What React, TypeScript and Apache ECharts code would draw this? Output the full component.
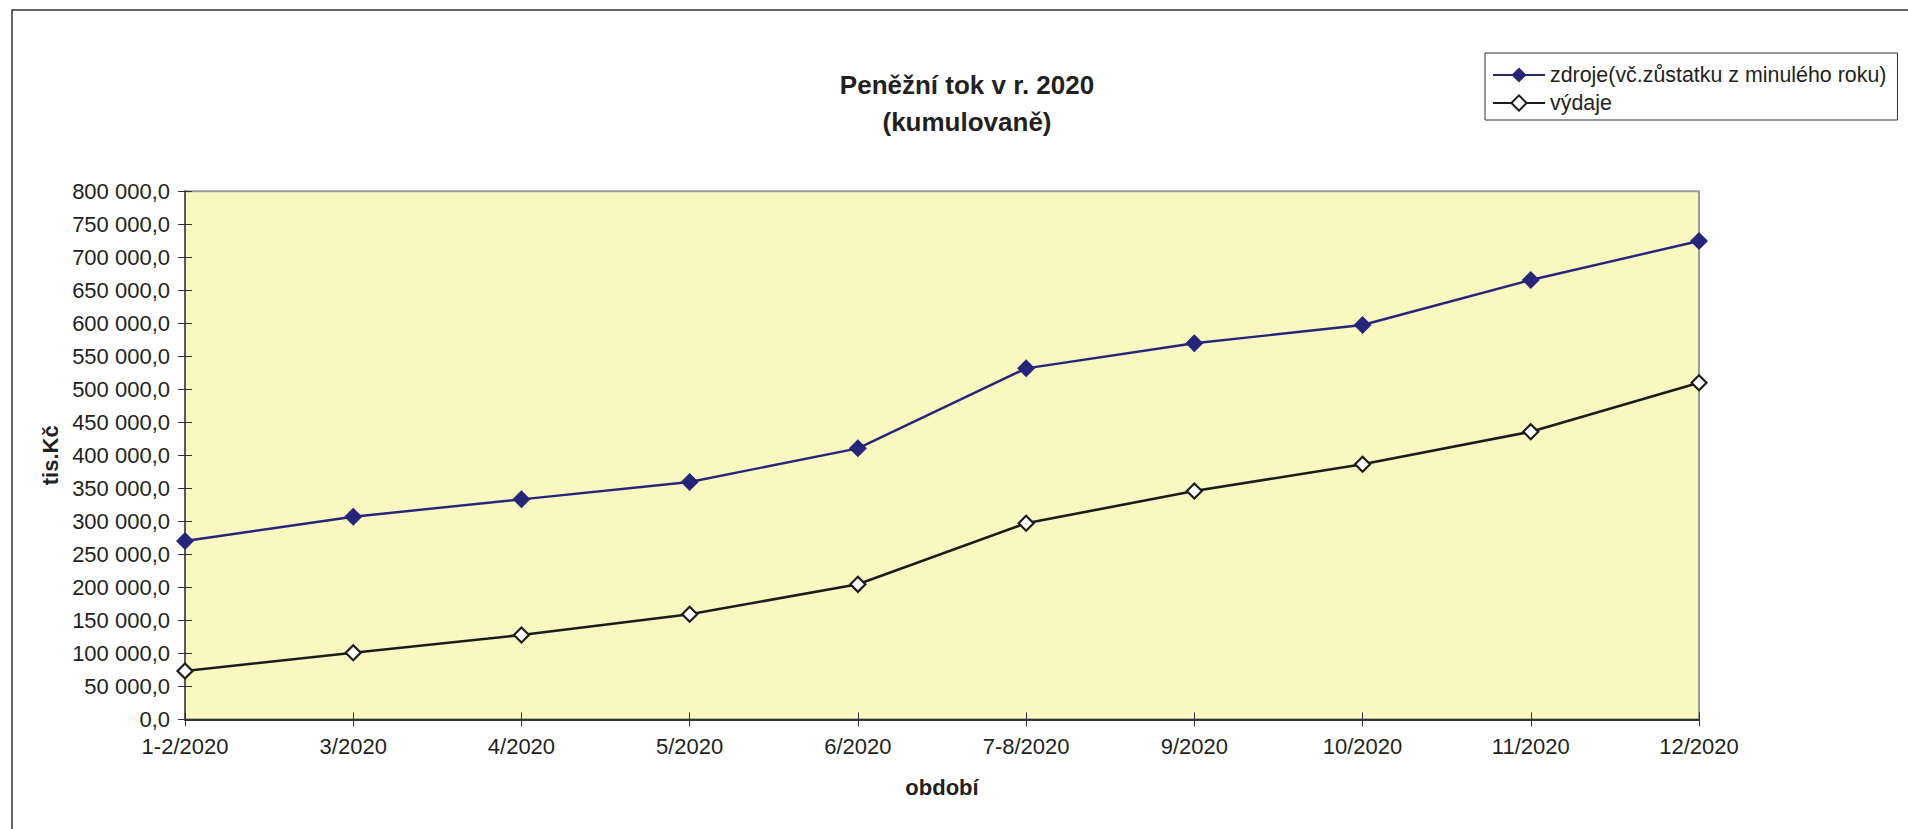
import React, { useEffect, useRef } from "react";
import * as echarts from "echarts";

const categories = [
  "1-2/2020",
  "3/2020",
  "4/2020",
  "5/2020",
  "6/2020",
  "7-8/2020",
  "9/2020",
  "10/2020",
  "11/2020",
  "12/2020",
];

const zdroje = [270150, 306970, 333300, 359500, 410600, 531800, 569700, 597400, 665600, 724700];
const vydaje = [73180, 100900, 127700, 159100, 204500, 297000, 345900, 386400, 435800, 510000];

const seriesNames = ["zdroje(vč.zůstatku z minulého roku)", "výdaje"];
const titleText = "Peněžní tok v r. 2020\n(kumulovaně)";
const xAxisName = "období";
const yAxisName = "tis.Kč";
const yMin = 0;
const yMax = 800000;
const yStep = 50000;

const FONT = "'Liberation Sans', Arial, sans-serif";
const TEXT = "#231f20";

function fmt(v: number): string {
  const s = Math.round(v).toString().replace(/\B(?=(\d{3})+(?!\d))/g, " ");
  return s + ",0";
}

export default function App() {
  const ref = useRef<HTMLDivElement>(null);
  useEffect(() => {
    if (!ref.current) return;
    const chart = echarts.init(ref.current, undefined, { renderer: "svg" });
    chart.setOption({
      animation: false,
      backgroundColor: "#ffffff",
      textStyle: { fontFamily: FONT, color: TEXT },
      graphic: [
        {
          type: "rect",
          shape: { x: 12, y: 10, width: 1950, height: 900 },
          style: { fill: "none", stroke: "#333333", lineWidth: 1.5 },
          silent: true,
        },
      ],
      title: {
        text: titleText,
        left: 967,
        top: 66,
        textAlign: "center",
        padding: 0,
        textStyle: {
          fontFamily: FONT,
          fontSize: 26,
          fontWeight: "bold",
          color: TEXT,
          lineHeight: 37,
        },
      },
      legend: {
        orient: "vertical",
        left: 1485,
        top: 53,
        padding: [11, 11, 6, 7],
        itemWidth: 52,
        itemHeight: 19,
        itemGap: 6,
        borderColor: "#333333",
        borderWidth: 1,
        textStyle: { fontFamily: FONT, fontSize: 21.4, lineHeight: 22, color: TEXT },
        data: seriesNames,
      },
      grid: {
        left: 185,
        right: 209,
        top: 191.3,
        bottom: 109.7,
        show: true,
        backgroundColor: "#faf7c0",
        borderColor: "#9a9a9a",
        borderWidth: 2,
      },
      xAxis: [
        {
          type: "category",
          data: categories,
          boundaryGap: false,
          position: "bottom",
          name: xAxisName,
          nameLocation: "middle",
          nameGap: 57,
          nameTextStyle: { fontFamily: FONT, fontSize: 22, fontWeight: "bold", color: TEXT },
          axisLine: { show: true, lineStyle: { color: "#333333", width: 2 } },
          axisTick: { show: true, length: 7, lineStyle: { color: "#333333", width: 1 } },
          axisLabel: { margin: 16, fontFamily: FONT, fontSize: 22, color: TEXT, interval: 0 },
          splitLine: { show: false },
        },
        {
          type: "category",
          data: categories,
          boundaryGap: false,
          position: "bottom",
          axisLine: { show: false },
          axisTick: { show: true, inside: true, length: 7, lineStyle: { color: "#333333", width: 1 } },
          axisLabel: { show: false },
          splitLine: { show: false },
        },
      ],
      yAxis: [
        {
          type: "value",
          min: yMin,
          max: yMax,
          interval: yStep,
          position: "left",
          name: yAxisName,
          nameLocation: "middle",
          nameGap: 122,
          nameTextStyle: { fontFamily: FONT, fontSize: 22, fontWeight: "bold", color: TEXT },
          axisLine: { show: true, lineStyle: { color: "#5a5a5a", width: 2 } },
          axisTick: { show: true, length: 7, lineStyle: { color: "#333333", width: 1 } },
          axisLabel: { margin: 15, fontFamily: FONT, fontSize: 22, color: TEXT, formatter: fmt },
          splitLine: { show: false },
        },
        {
          type: "value",
          min: yMin,
          max: yMax,
          interval: yStep,
          position: "left",
          axisLine: { show: false },
          axisTick: { show: true, inside: true, length: 7, lineStyle: { color: "#333333", width: 1 } },
          axisLabel: { show: false },
          splitLine: { show: false },
        },
      ],
      series: [
        {
          name: seriesNames[0],
          type: "line",
          data: zdroje,
          xAxisIndex: 0,
          yAxisIndex: 0,
          symbol: "diamond",
          symbolSize: 18,
          lineStyle: { color: "#25257a", width: 2.4 },
          itemStyle: { color: "#25257a", borderColor: "#25257a", borderWidth: 0 },
          z: 3,
        },
        {
          name: seriesNames[1],
          type: "line",
          data: vydaje,
          xAxisIndex: 0,
          yAxisIndex: 0,
          symbol: "diamond",
          symbolSize: 15,
          lineStyle: { color: "#1c1c1c", width: 2.6 },
          itemStyle: { color: "#ffffff", borderColor: "#1c1c1c", borderWidth: 2.2 },
          z: 3,
        },
      ],
    });
    return () => chart.dispose();
  }, []);
  return (
    <div
      ref={ref}
      style={{ position: "absolute", left: 0, top: 0, width: 1908, height: 829 }}
    />
  );
}
